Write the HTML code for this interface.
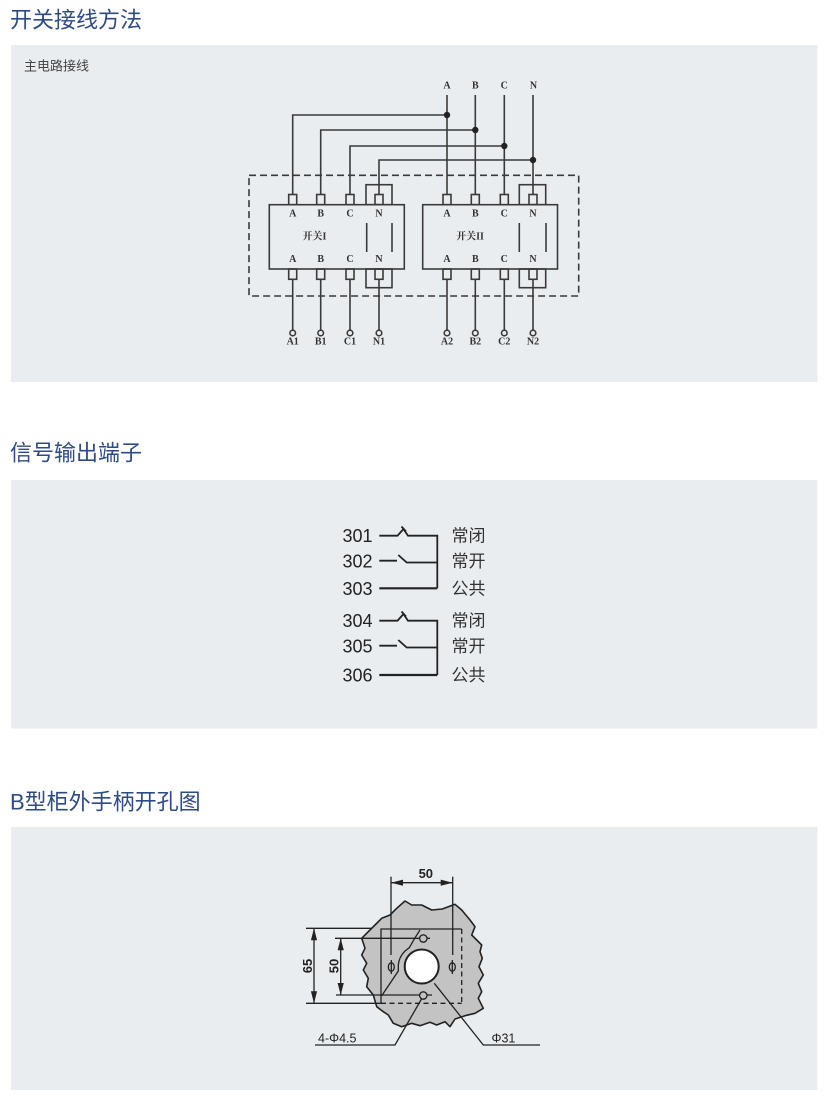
<!DOCTYPE html>
<html>
<head>
<meta charset="utf-8">
<style>
html,body{margin:0;padding:0;background:#fff;}
body{width:830px;height:1105px;overflow:hidden;}
svg{display:block;}
.t{font-family:"Liberation Sans","Noto Sans CJK SC",sans-serif;}
.ser{font-family:"Liberation Serif","Noto Serif CJK SC","Noto Sans CJK SC",serif;font-weight:bold;font-size:10px;fill:#333;}
</style>
</head>
<body>
<svg width="830" height="1105" viewBox="0 0 830 1105" xmlns="http://www.w3.org/2000/svg">
  <!-- panels -->
  <rect x="11" y="45" width="806.5" height="337" fill="#eaedf0"/>
  <rect x="11" y="480" width="806.5" height="248.5" fill="#eaedf0"/>
  <rect x="11" y="827" width="806.5" height="263" fill="#eaedf0"/>

  <!-- titles -->
  <text class="t" x="10" y="20" font-size="22" fill="#2d4b87" dominant-baseline="central">开关接线方法</text>
  <text class="t" x="10" y="453" font-size="22" fill="#2d4b87" dominant-baseline="central">信号输出端子</text>
  <text class="t" x="10" y="802" font-size="22" fill="#2d4b87" dominant-baseline="central">B型柜外手柄开孔图</text>
  <text class="t" x="24" y="66" font-size="13" fill="#444" dominant-baseline="central">主电路接线</text>

  <!-- ============ wiring diagram ============ -->
  <g stroke="#3a3a3a" stroke-width="1.6" fill="none">
    <!-- dashed enclosure -->
    <rect x="249" y="175.3" width="329.7" height="120.7" stroke-dasharray="7,4"/>
    <!-- top incoming lines -->
    <line x1="447" y1="95" x2="447" y2="194.5"/>
    <line x1="475.3" y1="95" x2="475.3" y2="194.5"/>
    <line x1="504.3" y1="95" x2="504.3" y2="194.5"/>
    <line x1="533" y1="95" x2="533" y2="194.5"/>
    <!-- branches to switch I -->
    <polyline points="447,115 292.7,115 292.7,194.5"/>
    <polyline points="475.3,130 320.7,130 320.7,194.5"/>
    <polyline points="504.3,146 350,146 350,194.5"/>
    <polyline points="533,160 379,160 379,194.5"/>
    <!-- switch boxes -->
    <rect x="269.3" y="204.7" width="135" height="64.3"/>
    <rect x="422.7" y="204.7" width="134.8" height="64.3"/>
    <!-- N brackets -->
    <rect x="366" y="184.7" width="26" height="20"/>
    <rect x="366" y="269" width="26" height="18.7"/>
    <rect x="519.3" y="184.7" width="26.4" height="20"/>
    <rect x="519.3" y="269" width="26.4" height="18.7"/>
    <!-- inner N contacts -->
    <line x1="366.7" y1="223" x2="366.7" y2="252"/>
    <line x1="392" y1="223" x2="392" y2="252"/>
    <line x1="519.3" y1="223" x2="519.3" y2="252"/>
    <line x1="546" y1="223" x2="546" y2="252"/>
    <!-- terminals top -->
    <rect x="288.7" y="194.5" width="8" height="10.2"/>
    <rect x="316.7" y="194.5" width="8" height="10.2"/>
    <rect x="346" y="194.5" width="8" height="10.2"/>
    <rect x="375" y="194.5" width="8" height="10.2"/>
    <rect x="443" y="194.5" width="8" height="10.2"/>
    <rect x="471.3" y="194.5" width="8" height="10.2"/>
    <rect x="500.3" y="194.5" width="8" height="10.2"/>
    <rect x="529" y="194.5" width="8" height="10.2"/>
    <!-- terminals bottom -->
    <rect x="288.7" y="269" width="8" height="10.3"/>
    <rect x="316.7" y="269" width="8" height="10.3"/>
    <rect x="346" y="269" width="8" height="10.3"/>
    <rect x="375" y="269" width="8" height="10.3"/>
    <rect x="443" y="269" width="8" height="10.3"/>
    <rect x="471.3" y="269" width="8" height="10.3"/>
    <rect x="500.3" y="269" width="8" height="10.3"/>
    <rect x="529" y="269" width="8" height="10.3"/>
    <!-- outgoing lines -->
    <line x1="292.7" y1="279.3" x2="292.7" y2="330"/>
    <line x1="320.7" y1="279.3" x2="320.7" y2="330"/>
    <line x1="350" y1="279.3" x2="350" y2="330"/>
    <line x1="379" y1="279.3" x2="379" y2="330"/>
    <line x1="447" y1="279.3" x2="447" y2="330"/>
    <line x1="475.3" y1="279.3" x2="475.3" y2="330"/>
    <line x1="504.3" y1="279.3" x2="504.3" y2="330"/>
    <line x1="533" y1="279.3" x2="533" y2="330"/>
    <!-- terminal circles -->
    <circle cx="292.7" cy="333" r="2.8"/>
    <circle cx="320.7" cy="333" r="2.8"/>
    <circle cx="350" cy="333" r="2.8"/>
    <circle cx="379" cy="333" r="2.8"/>
    <circle cx="447" cy="333" r="2.8"/>
    <circle cx="475.3" cy="333" r="2.8"/>
    <circle cx="504.3" cy="333" r="2.8"/>
    <circle cx="533" cy="333" r="2.8"/>
  </g>
  <!-- junction dots -->
  <g fill="#222">
    <circle cx="447" cy="115" r="3.2"/>
    <circle cx="475.3" cy="130" r="3.2"/>
    <circle cx="504.3" cy="146" r="3.2"/>
    <circle cx="533" cy="160" r="3.2"/>
  </g>
  <!-- wiring labels -->
  <g class="ser" text-anchor="middle" dominant-baseline="central">
    <text x="447" y="86">A</text><text x="475.3" y="86">B</text><text x="504.3" y="86">C</text><text x="533.5" y="86">N</text>
    <text x="292.7" y="214">A</text><text x="320.7" y="214">B</text><text x="350" y="214">C</text><text x="379" y="214">N</text>
    <text x="447" y="214">A</text><text x="475.3" y="214">B</text><text x="504.3" y="214">C</text><text x="533" y="214">N</text>
    <text x="292.7" y="259.5">A</text><text x="320.7" y="259.5">B</text><text x="350" y="259.5">C</text><text x="379" y="259.5">N</text>
    <text x="447" y="259.5">A</text><text x="475.3" y="259.5">B</text><text x="504.3" y="259.5">C</text><text x="533" y="259.5">N</text>
    <text x="292.7" y="342">A1</text><text x="320.7" y="342">B1</text><text x="350" y="342">C1</text><text x="379" y="342">N1</text>
    <text x="447" y="342">A2</text><text x="475.3" y="342">B2</text><text x="504.3" y="342">C2</text><text x="533" y="342">N2</text>
    <text x="314.5" y="237" font-size="10">开关I</text>
    <text x="470" y="237" font-size="10">开关II</text>
  </g>

  <!-- ============ signal terminals ============ -->
  <g stroke="#222" stroke-width="1.8" fill="none" stroke-linejoin="miter">
    <!-- group 1 -->
    <path d="M379.3,535.7 H397.5 L403.5,529 L408,535.7 H437.3 V588.3"/>
    <path d="M401.5,526.5 L406,531.5"/>
    <path d="M379.3,560.7 H397 M398.3,555 L406.7,562.5 H437.3"/>
    <path d="M379.3,588.3 H437.3" stroke-width="2.2"/>
    <!-- group 2 -->
    <path d="M379.3,620.7 H397.5 L403.5,614 L408,620.7 H437.3 V675"/>
    <path d="M401.5,611.5 L406,616.5"/>
    <path d="M379.3,645.7 H397 M398.3,640 L406.7,647.5 H437.3"/>
    <path d="M379.3,675 H437.3" stroke-width="2.2"/>
  </g>
  <g class="t" font-size="18" fill="#222" dominant-baseline="central">
    <text x="342.5" y="536">301</text>
    <text x="342.5" y="561.5">302</text>
    <text x="342.5" y="589">303</text>
    <text x="342.5" y="621">304</text>
    <text x="342.5" y="646.5">305</text>
    <text x="342.5" y="675.5">306</text>
  </g>
  <g class="t" font-size="17" fill="#333" dominant-baseline="central">
    <text x="451.5" y="536">常闭</text>
    <text x="451.5" y="561.5">常开</text>
    <text x="451.5" y="589">公共</text>
    <text x="451.5" y="621">常闭</text>
    <text x="451.5" y="646.5">常开</text>
    <text x="451.5" y="675.5">公共</text>
  </g>

  <!-- ============ handle cutout ============ -->
  <polygon fill="#c3c3c3" stroke="#222" stroke-width="1.6" stroke-linejoin="round"
    points="405,901 411.7,905 421.7,905 431.7,910 442.3,909 455,904.3 461.7,910 470,920 475,926.7 471.7,935 481.7,945 480,951.7 482.3,958.3 479,966.7 483.3,975 478.3,983.3 481.7,991.7 478.3,998.3 483.3,1008.3 475,1013.3 465,1015.7 455,1019 450,1026.7 445,1021.7 436.7,1025 430,1022.3 420,1025.7 411.7,1023.3 401.7,1026.7 393.3,1023.3 388.3,1015 383.3,1011.7 376.7,1006.7 373.3,995 366.7,986.7 368.3,978.3 363.3,970 366.7,963.3 361.7,955 365,948.3 361.7,938.3 368.3,931.7 375,925 381.7,918.3 390,915 396.7,908.3"/>
  <g stroke="#222" stroke-width="1.3" fill="none">
    <!-- inner rect -->
    <polyline points="461.7,929 381,929 381,1003.3"/>
    <line x1="461.7" y1="929" x2="461.7" y2="1003.3" stroke-dasharray="5,3.5"/>
    <line x1="381" y1="1003.3" x2="461.7" y2="1003.3" stroke-dasharray="5,3.5"/>
    <!-- arc / sweep -->
    <path d="M420,930 Q414,939 409.3,947.7 L405,951 Q399,957 398.3,965 L398.3,971 L381.7,995.7"/>
    <!-- top 50 dimension -->
    <line x1="391" y1="876.7" x2="391" y2="955"/>
    <line x1="452.7" y1="876.7" x2="452.7" y2="955"/>
    <line x1="391" y1="882.7" x2="452.7" y2="882.7"/>
    <!-- 65 dimension -->
    <line x1="306" y1="928.3" x2="372" y2="928.3"/>
    <line x1="306" y1="1003.3" x2="381" y2="1003.3"/>
    <line x1="314" y1="928.3" x2="314" y2="1003.3"/>
    <!-- 50 vertical dimension -->
    <line x1="335" y1="938.3" x2="430" y2="938.3"/>
    <line x1="336" y1="995" x2="432" y2="995"/>
    <line x1="340.7" y1="938.3" x2="340.7" y2="995"/>
    <!-- leaders -->
    <polyline points="421.5,999 395,1045 315,1045"/>
    <polyline points="434.3,983.3 483.3,1045 540,1045"/>
    <!-- phi marks -->
    <ellipse cx="391.3" cy="967" rx="3" ry="4.2"/>
    <line x1="391.3" y1="960" x2="391.3" y2="974"/>
    <ellipse cx="452.3" cy="967" rx="3" ry="4.2"/>
    <line x1="452.3" y1="960" x2="452.3" y2="974"/>
  </g>
  <!-- holes -->
  <circle cx="421.7" cy="966.5" r="17" fill="#fff" stroke="#222" stroke-width="2"/>
  <circle cx="423.3" cy="938.5" r="3.7" fill="#c3c3c3" stroke="#222" stroke-width="1.3"/>
  <circle cx="423.3" cy="995.5" r="3.7" fill="#c3c3c3" stroke="#222" stroke-width="1.3"/>
  <!-- arrowheads -->
  <g fill="#222">
    <polygon points="391,882.7 403,879.6 403,885.8"/>
    <polygon points="452.7,882.7 440.7,879.6 440.7,885.8"/>
    <polygon points="314,928.3 310.9,940.3 317.1,940.3"/>
    <polygon points="314,1003.3 310.9,991.3 317.1,991.3"/>
    <polygon points="340.7,938.3 337.6,950.3 343.8,950.3"/>
    <polygon points="340.7,995 337.6,983 343.8,983"/>
  </g>
  <g class="t" font-size="13" font-weight="bold" fill="#222" text-anchor="middle" dominant-baseline="central">
    <text x="425.8" y="873.5">50</text>
    <text transform="translate(307.5,966) rotate(-90)">65</text>
    <text transform="translate(334,966) rotate(-90)">50</text>
  </g>
  <g class="t" font-size="12.5" fill="#222" dominant-baseline="central">
    <text x="318" y="1038.3">4-Φ4.5</text>
    <text x="491.5" y="1038.3">Φ31</text>
  </g>
</svg>
</body>
</html>
